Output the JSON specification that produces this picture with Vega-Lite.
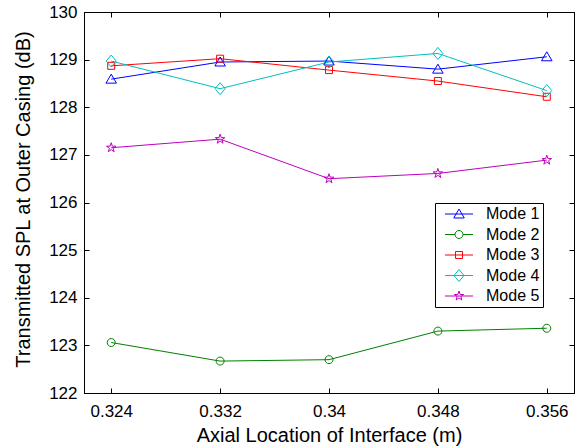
{
  "$schema": "https://vega.github.io/schema/vega-lite/v6.json",
  "autosize": "none",
  "width": 490,
  "height": 381,
  "padding": {"left": 84, "top": 12, "right": 8, "bottom": 55},
  "background": "white",
  "config": {
    "view": {"stroke": "black", "strokeWidth": 1},
    "font": "Liberation Sans",
    "axis": {
      "grid": false,
      "domainColor": "black",
      "tickColor": "black",
      "tickSize": -5,
      "labelFont": "Liberation Sans",
      "labelFontSize": 17,
      "labelColor": "black",
      "titleFont": "Liberation Sans",
      "titleFontSize": 20,
      "titleFontWeight": "normal",
      "titleColor": "black"
    }
  },
  "data": {
    "values": [
      {"x": 0.324, "mode": "Mode 1", "y": 128.59},
      {"x": 0.332, "mode": "Mode 1", "y": 128.95},
      {"x": 0.340, "mode": "Mode 1", "y": 128.97},
      {"x": 0.348, "mode": "Mode 1", "y": 128.80},
      {"x": 0.356, "mode": "Mode 1", "y": 129.06},
      {"x": 0.324, "mode": "Mode 2", "y": 123.06},
      {"x": 0.332, "mode": "Mode 2", "y": 122.67},
      {"x": 0.340, "mode": "Mode 2", "y": 122.70},
      {"x": 0.348, "mode": "Mode 2", "y": 123.30},
      {"x": 0.356, "mode": "Mode 2", "y": 123.36},
      {"x": 0.324, "mode": "Mode 3", "y": 128.87},
      {"x": 0.332, "mode": "Mode 3", "y": 129.02},
      {"x": 0.340, "mode": "Mode 3", "y": 128.78},
      {"x": 0.348, "mode": "Mode 3", "y": 128.55},
      {"x": 0.356, "mode": "Mode 3", "y": 128.22},
      {"x": 0.324, "mode": "Mode 4", "y": 128.97},
      {"x": 0.332, "mode": "Mode 4", "y": 128.39},
      {"x": 0.340, "mode": "Mode 4", "y": 128.95},
      {"x": 0.348, "mode": "Mode 4", "y": 129.13},
      {"x": 0.356, "mode": "Mode 4", "y": 128.35},
      {"x": 0.324, "mode": "Mode 5", "y": 127.15},
      {"x": 0.332, "mode": "Mode 5", "y": 127.33},
      {"x": 0.340, "mode": "Mode 5", "y": 126.50},
      {"x": 0.348, "mode": "Mode 5", "y": 126.61},
      {"x": 0.356, "mode": "Mode 5", "y": 126.89}
    ]
  },
  "encoding": {
    "x": {
      "field": "x", "type": "quantitative",
      "scale": {"domain": [0.322, 0.358], "nice": false, "zero": false}
    },
    "y": {
      "field": "y", "type": "quantitative",
      "scale": {"domain": [122, 130], "nice": false, "zero": false}
    },
    "color": {
      "field": "mode", "type": "nominal",
      "scale": {
        "domain": ["Mode 1", "Mode 2", "Mode 3", "Mode 4", "Mode 5"],
        "range": ["#0000FF", "#008000", "#FF0000", "#00BFBF", "#BF00BF"]
      },
      "legend": {
        "orient": "none",
        "legendX": 351,
        "legendY": 191,
        "title": null,
        "fillColor": "white",
        "strokeColor": "black",
        "padding": 3,
        "cornerRadius": 0,
        "labelFont": "Liberation Sans",
        "labelFontSize": 16,
        "labelColor": "black",
        "labelExpr": "datum.label + '   '",
        "labelOffset": 19,
        "symbolOffset": 13,
        "rowPadding": 4.5,
        "symbolSize": 225,
        "symbolStrokeWidth": 1,
        "symbolFillColor": "transparent",
        "symbolType": {"expr": "['M-1.867,0H1.867M0,-0.667L0.7,0.533L-0.7,0.533Z','M-1.867,0H-0.533M0.533,0H1.867M-0.533,0A0.533,0.533 0 1,0 0.533,0A0.533,0.533 0 1,0 -0.533,0Z','M-1.867,0H1.867M-0.467,-0.467H0.467V0.467H-0.467Z','M-1.867,0H1.867M0,-0.8L0.667,0L0,0.8L-0.667,0Z','M-1.867,0H1.867M0,-0.667L0.15,-0.206L0.634,-0.206L0.242,0.079L0.392,0.539L0,0.255L-0.392,0.539L-0.242,0.079L-0.634,-0.206L-0.15,-0.206Z'][indexof(['Mode 1','Mode 2','Mode 3','Mode 4','Mode 5'], datum.value)]"}
      }
    }
  },
  "layer": [
    {
      "mark": {"type": "line", "strokeWidth": 1},
      "encoding": {
        "x": {
          "field": "x", "type": "quantitative",
          "axis": {
            "orient": "bottom",
            "values": [0.324, 0.332, 0.34, 0.348, 0.356],
            "format": ".3~f",
            "labelPadding": 15,
            "title": "Axial Location of Interface (m)",
            "titleBaseline": "alphabetic",
            "titleY": 48
          }
        },
        "y": {
          "field": "y", "type": "quantitative",
          "axis": {
            "orient": "left",
            "values": [122, 123, 124, 125, 126, 127, 128, 129, 130],
            "labelPadding": 12,
            "title": "Transmitted SPL at Outer Casing (dB)",
            "titleBaseline": "alphabetic",
            "titleX": -55,
            "titleY": 187
          }
        }
      }
    },
    {
      "mark": {"type": "point", "filled": false, "size": 100, "strokeWidth": 1, "opacity": 1},
      "encoding": {
        "x": {"field": "x", "type": "quantitative", "axis": null},
        "y": {"field": "y", "type": "quantitative", "axis": null},
        "shape": {
          "field": "mode", "type": "nominal",
          "scale": {
            "range": [
              "M0,-1L1.05,0.8L-1.05,0.8Z",
              "M-0.8,0A0.8,0.8 0 1,0 0.8,0A0.8,0.8 0 1,0 -0.8,0Z",
              "M-0.7,-0.7H0.7V0.7H-0.7Z",
              "M0,-1.2L1,0L0,1.2L-1,0Z",
              "M0,-1L0.225,-0.309L0.951,-0.309L0.363,0.118L0.588,0.809L0,0.382L-0.588,0.809L-0.363,0.118L-0.951,-0.309L-0.225,-0.309Z"
            ]
          },
          "legend": null
        }
      }
    },
    {
      "mark": {"type": "point", "opacity": 0},
      "encoding": {
        "x": {
          "field": "x", "type": "quantitative",
          "axis": {"orient": "top", "values": [0.324, 0.332, 0.34, 0.348, 0.356], "labels": false, "title": null}
        },
        "y": {
          "field": "y", "type": "quantitative",
          "axis": {"orient": "right", "values": [122, 123, 124, 125, 126, 127, 128, 129, 130], "labels": false, "title": null}
        }
      }
    }
  ],
  "resolve": {"axis": {"x": "independent", "y": "independent"}}
}
